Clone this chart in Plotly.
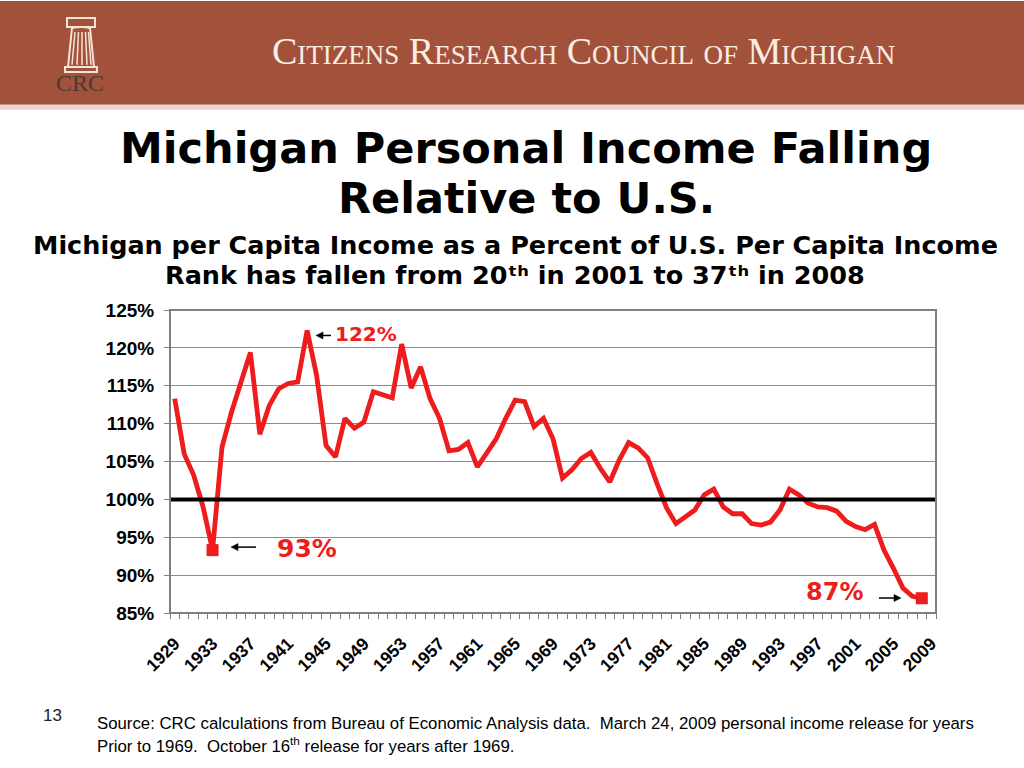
import plotly.graph_objects as go

# ---- data ----
years = list(range(1929, 2009))
pct = [113.3, 106.0, 103.2, 99.0, 93.3, 106.9, 111.5, 115.7, 119.4, 108.6,
       112.4, 114.6, 115.3, 115.5, 122.3, 116.4, 107.1, 105.6, 110.7, 109.4,
       110.2, 114.2, 113.8, 113.4, 120.5, 114.7, 117.5, 113.3, 110.7, 106.4,
       106.6, 107.5, 104.3, 106.2, 108.0, 110.7, 113.1, 112.9, 109.6, 110.7,
       108.0, 102.8, 103.9, 105.4, 106.2, 104.1, 102.3, 105.2, 107.5, 106.8,
       105.5, 102.1, 98.9, 96.8, 97.7, 98.6, 100.6, 101.35, 99.0, 98.1,
       98.1, 96.8, 96.6, 97.0, 98.6, 101.35, 100.6, 99.5, 99.0, 98.9,
       98.45, 97.1, 96.4, 96.0, 96.7, 93.3, 90.9, 88.3, 87.2, 86.95]
highlight_years = [1933, 2008]
highlight_vals = [93.3, 86.95]
tick_years = list(range(1929, 2010, 4))
y_ticks = [85, 90, 95, 100, 105, 110, 115, 120, 125]
y_labels = [f"{v}%" for v in y_ticks]

# ---- geometry helpers (pixel -> paper) ----
L, R, T, B = 170, 936, 309.5, 613
W, H = 1024, 768
def px(x):
    return (x - L) / (R - L)
def py(y):
    return (B - y) / (B - T)

RED = "#EE1C1C"
fig = go.Figure()
fig.add_trace(go.Scatter(x=years, y=pct, mode="lines",
                         line=dict(color=RED, width=4.8), hoverinfo="skip"))
fig.add_trace(go.Scatter(x=highlight_years, y=highlight_vals, mode="markers",
                         marker=dict(color=RED, symbol="square", size=12), hoverinfo="skip"))

shapes = []
# banner
shapes.append(dict(type="rect", xref="paper", yref="paper", x0=px(0), x1=px(W), y0=py(104), y1=py(0),
                   fillcolor="#A2523A", line=dict(width=0), layer="below"))
shapes.append(dict(type="rect", xref="paper", yref="paper", x0=px(0), x1=px(W), y0=py(109), y1=py(104),
                   fillcolor="#EBD3CA", line=dict(width=0), layer="below"))
# logo column
cream = "#F6E3D6"
shapes.append(dict(type="rect", xref="paper", yref="paper", x0=px(67), x1=px(95), y0=py(26), y1=py(17),
                   fillcolor="rgba(0,0,0,0)", line=dict(color=cream, width=2)))
shapes.append(dict(type="path", xref="paper", yref="paper",
                   path=f"M {px(72)} {py(27)} Q {px(81)} {py(25)} {px(90)} {py(27)} L {px(94)} {py(66)} L {px(68)} {py(66)} Z",
                   fillcolor="rgba(0,0,0,0)", line=dict(color=cream, width=2)))
for xs in [(75, 72), (78.5, 77), (82, 82), (85.5, 87), (88.5, 91)]:
    shapes.append(dict(type="line", xref="paper", yref="paper", x0=px(xs[0]), x1=px(xs[1]),
                       y0=py(31), y1=py(64), line=dict(color=cream, width=1.5)))
shapes.append(dict(type="rect", xref="paper", yref="paper", x0=px(65), x1=px(97), y0=py(71), y1=py(66),
                   fillcolor="rgba(0,0,0,0)", line=dict(color=cream, width=2)))
# 100% reference line
shapes.append(dict(type="line", xref="paper", yref="y", x0=0, x1=1, y0=100, y1=100,
                   line=dict(color="black", width=4)))
# frame
shapes.append(dict(type="rect", xref="paper", yref="paper", x0=0, x1=1, y0=0, y1=1,
                   line=dict(color="#808080", width=2), fillcolor="rgba(0,0,0,0)"))

# small pointer arrows (line + triangular head)
def arrow(x_tip, y, x_tail):
    d = 1 if x_tail > x_tip else -1
    shapes.append(dict(type="line", xref="paper", yref="paper", x0=px(x_tail), x1=px(x_tip + d * 5),
                       y0=py(y), y1=py(y), line=dict(color="black", width=1.5)))
    shapes.append(dict(type="path", xref="paper", yref="paper",
                       path=f"M {px(x_tip)} {py(y)} L {px(x_tip + d * 7)} {py(y - 3.5)} L {px(x_tip + d * 7)} {py(y + 3.5)} Z",
                       fillcolor="black", line=dict(color="black", width=0.5)))
arrow(316, 335, 331)
arrow(231, 547, 256)
arrow(901, 598, 879)

ann = []
def txt(x, y, s, size, color="black", family="DejaVu Sans", bold=False, xanchor="center", yanchor="middle", **kw):
    ann.append(dict(xref="paper", yref="paper", x=px(x), y=py(y), text=s, showarrow=False,
                    xanchor=xanchor, yanchor=yanchor,
                    font=dict(size=size, color=color, family=family, weight=("bold" if bold else "normal"), **kw)))

txt(80, 82, "CRC", 24, color="#4A3A36", family="Liberation Serif")
txt(583, 50, "Citizens Research Council of Michigan", 38, color="#FBEDE3", family="Liberation Serif",
    variant="small-caps")
txt(526, 147, "Michigan Personal Income Falling", 43, bold=True)
txt(526, 197, "Relative to U.S.", 43, bold=True)
txt(515, 244, "Michigan per Capita Income as a Percent of U.S. Per Capita Income", 25.5, bold=True)
txt(515, 274, "Rank has fallen from 20ᵗʰ in 2001 to 37ᵗʰ in 2008", 25.5, bold=True)

# data labels
txt(333, 334, "122%", 20, color=RED, bold=True, xanchor="left")
txt(275, 548, "93%", 25, color=RED, bold=True, xanchor="left")
txt(804, 592, "87%", 24, color=RED, bold=True, xanchor="left")

# footer
txt(53, 716, "13", 17, color="#222222", family="Liberation Sans")
txt(95, 724, "Source: CRC calculations from Bureau of Economic Analysis data.  March 24, 2009 personal income release for years",
    16.8, color="black", family="Liberation Sans", xanchor="left")
txt(95, 745, "Prior to 1969.  October 16<sup>th</sup> release for years after 1969.",
    16.8, color="black", family="Liberation Sans", xanchor="left")

fig.update_layout(
    width=W, height=H, autosize=False,
    margin=dict(l=L, r=W - R, t=T, b=H - B, pad=0),
    paper_bgcolor="white", plot_bgcolor="white",
    showlegend=False,
    shapes=shapes, annotations=ann,
    xaxis=dict(range=[1928.5, 2009.5], tickmode="array", tickvals=tick_years,
               ticktext=[str(y) for y in tick_years], tickangle=-45,
               ticks="", showgrid=False, zeroline=False, ticklabelstandoff=16,
               tickfont=dict(family="Liberation Sans", size=17.5, color="black", weight="bold"),
               minor=dict(ticks="outside", tick0=1928.5, dtick=1, ticklen=5, tickcolor="#808080",
                          showgrid=False),
               showline=False),
    yaxis=dict(range=[85, 125], tickmode="array", tickvals=y_ticks, ticktext=y_labels,
               showgrid=True, gridcolor="#8C8C8C", gridwidth=1, zeroline=False,
               ticks="outside", ticklen=5, tickcolor="#808080", ticklabelstandoff=6,
               tickfont=dict(family="Liberation Sans", size=19, color="black", weight="bold"),
               showline=False),
)
fig.write_html("out.html", config={"displayModeBar": False},
               post_script="document.body.style.margin='0px';document.body.style.overflow='hidden';")
